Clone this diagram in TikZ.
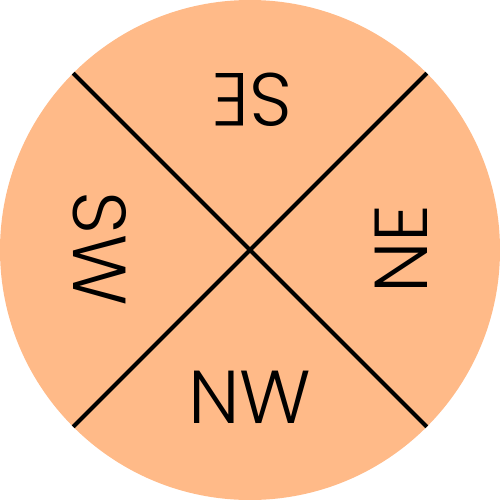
\documentclass[tikz,border=0pt]{standalone}
\usepackage{fontspec}
\setmainfont{Poppins Light}
\definecolor{disc}{HTML}{FFBA88}
\tikzset{lbl/.style={font=\fontsize{75}{75}\selectfont, inner sep=0pt, anchor=center}}
\begin{document}
\begin{tikzpicture}[x=1pt,y=-1pt]
\useasboundingbox (0,0) rectangle (500,500);
\fill[disc] (250,250) circle (250);
\coordinate (a) at (73.2,73.2);
\coordinate (b) at (426.8,426.8);
\coordinate (c) at (73.2,426.8);
\coordinate (d) at (426.8,73.2);
\draw[line width=4pt] (a) -- (b);
\draw[line width=4pt] (c) -- (d);
\node[lbl, rotate=180] (se) at (252,100) {SE};
\node[lbl, rotate=90] (ne) at (401,249) {NE};
\node[lbl, rotate=-90] (sw) at (100,249) {SW};
\node[lbl] (nw) at (250,397) {NW};
\end{tikzpicture}
\end{document}
